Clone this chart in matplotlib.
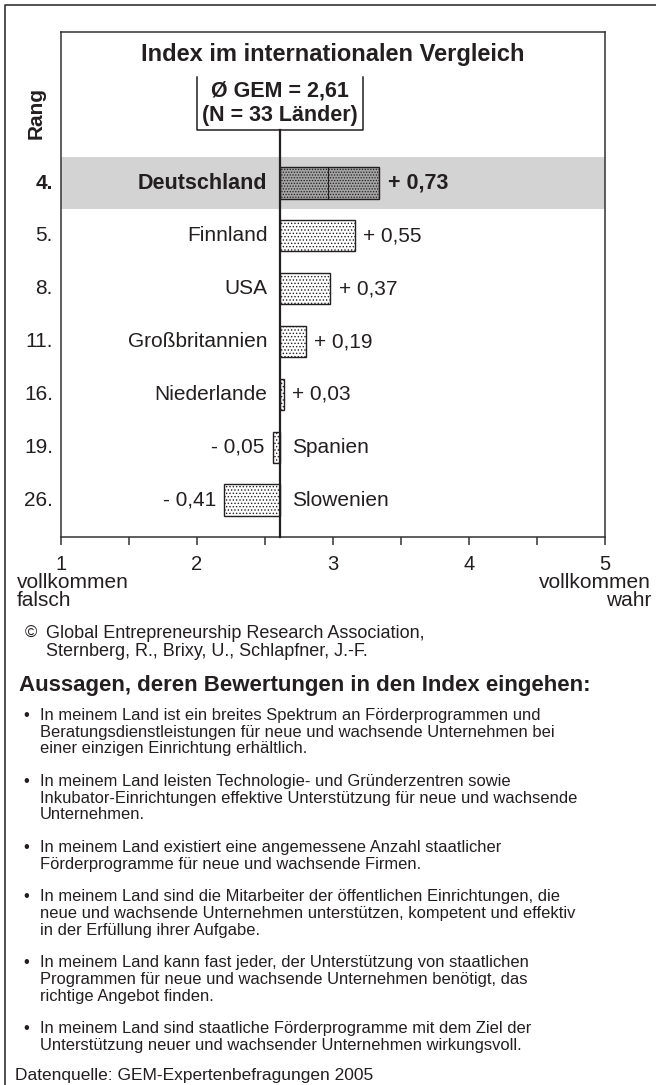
import matplotlib
matplotlib.use("Agg")
import matplotlib.pyplot as plt
from matplotlib.lines import Line2D
from matplotlib.transforms import blended_transform_factory

plt.rcParams["font.family"] = ["Liberation Sans", "DejaVu Sans"]
plt.rcParams["hatch.linewidth"] = 0.6
INK = "#231f20"

# --- data ---
ranks = ["4.", "5.", "8.", "11.", "16.", "19.", "26."]
countries = ["Deutschland", "Finnland", "USA", "Großbritannien", "Niederlande", "Spanien", "Slowenien"]
deltas = [0.73, 0.55, 0.37, 0.19, 0.03, -0.05, -0.41]
delta_labels = ["+ 0,73", "+ 0,55", "+ 0,37", "+ 0,19", "+ 0,03", "- 0,05", "- 0,41"]
gem_mean = 2.61
x_ticks = [1, 2, 3, 4, 5]
x_minor = [1.5, 2.5, 3.5, 4.5]

statements = [
    ["In meinem Land ist ein breites Spektrum an Förderprogrammen und",
     "Beratungsdienstleistungen für neue und wachsende Unternehmen bei",
     "einer einzigen Einrichtung erhältlich."],
    ["In meinem Land leisten Technologie- und Gründerzentren sowie",
     "Inkubator-Einrichtungen effektive Unterstützung für neue und wachsende",
     "Unternehmen."],
    ["In meinem Land existiert eine angemessene Anzahl staatlicher",
     "Förderprogramme für neue und wachsende Firmen."],
    ["In meinem Land sind die Mitarbeiter der öffentlichen Einrichtungen, die",
     "neue und wachsende Unternehmen unterstützen, kompetent und effektiv",
     "in der Erfüllung ihrer Aufgabe."],
    ["In meinem Land kann fast jeder, der Unterstützung von staatlichen",
     "Programmen für neue und wachsende Unternehmen benötigt, das",
     "richtige Angebot finden."],
    ["In meinem Land sind staatliche Förderprogramme mit dem Ziel der",
     "Unterstützung neuer und wachsender Unternehmen wirkungsvoll."],
]

W, H = 656, 1085
fig = plt.figure(figsize=(W / 100, H / 100), dpi=100)
fx = lambda x: x / W
fy = lambda y: 1 - y / H

# outer frame (left + top only)
fig.add_artist(Line2D([fx(5), fx(5), fx(W)], [fy(H), fy(4.5), fy(4.5)],
                      color="#333333", lw=1.2, transform=fig.transFigure))

ax = fig.add_axes([fx(61), fy(537), (605 - 61) / W, (537 - 32) / H])
ax.set_xlim(1, 5)
ax.set_ylim(6.70, -2.86)
for s in ax.spines.values():
    s.set_linewidth(1.1)
    s.set_color("#333333")

ax.axhspan(-0.5, 0.5, color="#d3d3d3", zorder=0, lw=0)

for i, d in enumerate(deltas):
    hl = i == 0
    ax.barh(i, d, left=gem_mean, height=0.59,
            color="#a3a3a3" if hl else "white",
            edgecolor=INK, lw=1.0, hatch="......" if hl else ".....", zorder=2)
ax.plot([2.96, 2.96], [-0.29, 0.29], color=INK, lw=0.8, zorder=3)

ax.plot([gem_mean, gem_mean], [6.70, -1.01], color=INK, lw=1.6, zorder=4, clip_on=False)

for i, (c, d, lab) in enumerate(zip(countries, deltas, delta_labels)):
    w = "bold" if i == 0 else "normal"
    fs = 15.5 if i == 0 else 15
    end = gem_mean + d
    if d >= 0:
        ax.annotate(c, (gem_mean, i), xytext=(-9, 0), textcoords="offset points",
                    ha="right", va="center", fontsize=fs, fontweight=w, color=INK)
        ax.annotate(lab, (end, i), xytext=(6, 0), textcoords="offset points",
                    ha="left", va="center", fontsize=fs, fontweight=w, color=INK)
    else:
        ax.annotate(lab, (end, i), xytext=(-6, 0), textcoords="offset points",
                    ha="right", va="center", fontsize=fs, fontweight=w, color=INK)
        ax.annotate(c, (gem_mean, i), xytext=(9, 0), textcoords="offset points",
                    ha="left", va="center", fontsize=fs, fontweight=w, color=INK)

tr = blended_transform_factory(fig.transFigure, ax.transData)
for i, r in enumerate(ranks):
    fig.text(fx(53), i, r, transform=tr, ha="right", va="center", fontsize=15,
             fontweight="bold" if i == 0 else "normal", color=INK)

ax.set_yticks([])
ax.set_xticks(x_ticks)
ax.set_xticks(x_minor, minor=True)
ax.set_xticklabels([str(t) for t in x_ticks], fontsize=14.5, color=INK)
ax.tick_params(axis="x", which="both", direction="out", length=5.5, width=1.1,
               color="#333333", pad=7.5)

# titles and annotation box
fig.text(fx(333), fy(61), "Index im internationalen Vergleich", ha="center", va="baseline",
         fontsize=17, fontweight="bold", color=INK)
fig.text(fx(36), fy(113), "Rang", rotation=90, ha="center", va="center",
         fontsize=15, fontweight="bold", color=INK)
fig.text(fx(280), fy(91), "Ø GEM = 2,61", ha="center", va="center",
         fontsize=15.5, fontweight="bold", color=INK)
fig.text(fx(280), fy(115), "(N = 33 Länder)", ha="center", va="center",
         fontsize=15.5, fontweight="bold", color=INK)
fig.add_artist(Line2D([fx(197), fx(197), fx(363), fx(363)], [fy(77), fy(130), fy(130), fy(77)],
                      color=INK, lw=1.1, transform=fig.transFigure))

fig.text(fx(17), fy(583), "vollkommen", ha="left", va="center", fontsize=15, color=INK)
fig.text(fx(17), fy(601), "falsch", ha="left", va="center", fontsize=15, color=INK)
fig.text(fx(651), fy(583), "vollkommen", ha="right", va="center", fontsize=15, color=INK)
fig.text(fx(651), fy(601), "wahr", ha="right", va="center", fontsize=15, color=INK)

fig.text(fx(25), fy(633), "©", ha="left", va="center", fontsize=12, color=INK)
fig.text(fx(46), fy(633), "Global Entrepreneurship Research Association,", ha="left",
         va="center", fontsize=13, color=INK)
fig.text(fx(46), fy(651), "Sternberg, R., Brixy, U., Schlapfner, J.-F.", ha="left",
         va="center", fontsize=13, color=INK)

fig.text(fx(19), fy(686), "Aussagen, deren Bewertungen in den Index eingehen:", ha="left",
         va="center", fontsize=16, fontweight="bold", color=INK)

line_h = 16.5
y = 715.5
for lines in statements:
    fig.text(fx(23), fy(y), "•", ha="left", va="center", fontsize=12, color=INK)
    for ln in lines:
        fig.text(fx(40), fy(y), ln, ha="left", va="center", fontsize=11.9, color=INK)
        y += line_h
    y += line_h

fig.text(fx(15), fy(y - 3), "Datenquelle: GEM-Expertenbefragungen 2005", ha="left", va="center",
         fontsize=12.5, color=INK)

fig.savefig("out.png", dpi=100, facecolor="white")
